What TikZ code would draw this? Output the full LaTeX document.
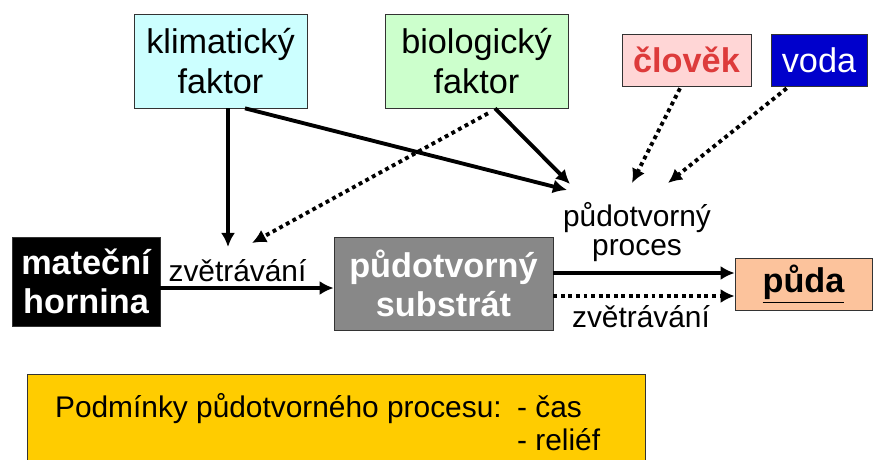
\documentclass[tikz,border=0pt]{standalone}
\usepackage{fontspec}
\setmainfont{Liberation Sans}
\usetikzlibrary{arrows.meta}
\tikzset{>={Latex[length=8pt,width=8pt]}}
\usepackage{xcolor}
\definecolor{klimcol}{HTML}{CCFFFF}
\definecolor{biocol}{HTML}{CCFFCC}
\definecolor{clovcol}{HTML}{FFD6D6}
\definecolor{clovtext}{HTML}{DD3B3B}
\definecolor{vodacol}{HTML}{0000CC}
\definecolor{subcol}{HTML}{888888}
\definecolor{pudacol}{HTML}{FCC39C}
\definecolor{zluta}{HTML}{FFCC00}
\tikzstyle{box}=[draw=black!80,align=center,inner sep=0,font=\fontsize{19.5}{22.5}\selectfont]
\tikzstyle{lbl}=[align=center,inner sep=1,font=\fontsize{17}{17}\selectfont]
\tikzstyle{hrot}=[line width=2.2pt]
\tikzstyle{tecky}=[line width=2.2pt,dash pattern=on 2.2pt off 2.1pt]

\begin{document}
\begin{tikzpicture}[x=0.02cm,y=-0.02cm]
\useasboundingbox (0,0) rectangle (877,460);
\clip (0,0) rectangle (877,460);

% faktory nahore
\node[box,fill=klimcol,minimum width=3.46cm,minimum height=1.88cm] (klim) at (220.5,61) {klimatický\\faktor};
\node[box,fill=biocol,minimum width=3.66cm,minimum height=1.88cm] (bio) at (476.5,61) {biologický\\faktor};
\node[box,fill=clovcol,text=clovtext,minimum width=2.58cm,minimum height=1.04cm,font=\fontsize{19.5}{22.5}\selectfont\bfseries] (clov) at (686.5,60) {člověk};
\node[box,fill=vodacol,text=white,minimum width=1.92cm,minimum height=1.04cm] (voda) at (819,60) {voda};

% hlavni rada
\node[box,fill=black,text=white,minimum width=2.96cm,minimum height=1.78cm,font=\fontsize{19.5}{22.5}\selectfont\bfseries] (horn) at (86,281.5) {mateční\\hornina};
\node[box,fill=subcol,text=white,minimum width=4.38cm,minimum height=1.86cm,font=\fontsize{19.5}{22.5}\selectfont\bfseries] (sub) at (443.5,283.5) {půdotvorný\\substrát};
\node[box,fill=pudacol,minimum width=2.74cm,minimum height=1.04cm,font=\fontsize{19.5}{22.5}\selectfont\bfseries] (puda) at (803.5,284.5) {\underline{půda}};

\node[lbl,anchor=base] (zv1) at (237.5,281) {zvětrávání};
\node[lbl] (proc) at (637,232) {půdotvorný\\proces};
\node[lbl,anchor=base] (zv2) at (641,327) {zvětrávání};

\coordinate (w1) at (228,247);
\coordinate (w2) at (252,243);
\coordinate (p1) at (567,190);
\coordinate (p2) at (570,184);
\coordinate (p3) at (632,183);
\coordinate (p4) at (668,183);

% sipky
\draw[hrot,->] (klim.south -| w1) -- (w1);
\draw[hrot,->] ([xshift=0.49cm]klim.south) -- (p1);
\draw[hrot,->] ([xshift=0.37cm]bio.south) -- (p2);
\draw[tecky,->] ([xshift=0.23cm,yshift=-0.1cm]bio.south) -- (w2);
\draw[tecky,->] ([xshift=-0.13cm,yshift=-0.04cm]clov.south) -- (p3);
\draw[tecky,->] ([xshift=0.32cm,yshift=-0.04cm]voda.south west) -- (p4);
\draw[hrot,->] ([yshift=-0.13cm]horn.east) -- ([yshift=-0.13cm]horn.east -| sub.west);
\draw[hrot,->] ([yshift=0.21cm]sub.east) -- ([yshift=0.21cm]sub.east -| puda.west);
\draw[tecky,->] ([yshift=-0.25cm]sub.east) -- ([yshift=-0.25cm]sub.east -| puda.west);

% podminky
\node[draw=black!80,fill=zluta,minimum width=12.36cm,minimum height=2.2cm,anchor=north west] (podm) at (27,374) {};
\node[lbl,anchor=base west] (podm1) at (53,417) {Podmínky půdotvorného procesu:};
\node[lbl,anchor=base west] (cas) at (515,417) {- čas};
\node[lbl,anchor=base west] (relief) at (515,450) {- reliéf};
\end{tikzpicture}
\end{document}
